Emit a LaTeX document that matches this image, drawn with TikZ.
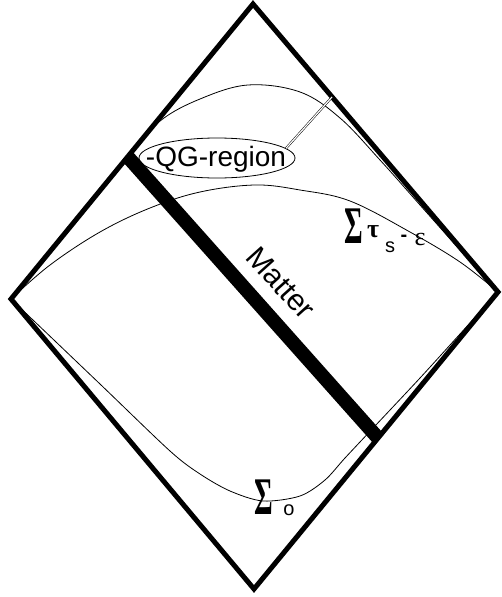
\documentclass[tikz,border=0pt]{standalone}
\usepackage{fontspec}
\setmainfont{Liberation Sans}
\newfontfamily\greekfont{Liberation Serif}
\usetikzlibrary{shapes.geometric}

\begin{document}
\begin{tikzpicture}[x=1pt, y=-1pt,
    edge/.style={line width=5pt, line join=miter},
    slice/.style={line width=0.8pt},
    bigsigma/.style={inner sep=0, font=\greekfont\bfseries\fontsize{46}{46}\selectfont},
    smallgreek/.style={inner sep=0, font=\greekfont\fontsize{26}{26}\selectfont},
    subtext/.style={inner sep=0, font=\fontsize{20}{20}\selectfont}]
    \useasboundingbox (0,0) rectangle (501,597);
    \coordinate (T) at (253,4);
    \coordinate (L) at (11,299);
    \coordinate (B) at (254,589);
    \coordinate (R) at (498,292);

    % matter shell
    \begin{scope}
        \clip (T) -- (R) -- (B) -- (L) -- cycle;
        \draw[line width=14pt] (103,129) -- (402,465);
    \end{scope}

    % slices
    \draw[slice] plot[smooth, tension=0.6] coordinates {(128,156) (160,121) (200,99) (248,85) (300,92) (340,118) (380,160) (420,205) (460,250) (498,292)};
    \draw[slice] plot[smooth, tension=0.6] coordinates {(11,299) (50,265) (100,232) (150,208) (200,192) (255,185) (300,190) (350,201) (410,232) (460,262) (498,292)};
    \draw[slice] plot[smooth, tension=0.5] coordinates {(11,299) (100,384) (170,451) (200,474) (230,491) (263,501) (300,496) (325,480) (345,458) (375,426) (420,378) (460,334) (498,292)};

    % Penrose diagram
    \draw[edge] (T) -- (R) -- (B) -- (L) -- cycle;

    % QG region
    \node[draw, ellipse, slice, minimum width=156pt, minimum height=40pt, inner sep=0] (qg) at (217,158) {};
    \node[inner sep=0, font=\fontsize{28}{28}\selectfont] (qgtext) at (216,159) {-QG-region};
    \coordinate (qgtip) at (332,97);
    \draw[double, double distance=1.2pt, line width=0.5pt] (qg.8) -- (qgtip);

    % labels
    \node[rotate=-48, font=\fontsize{30}{30}\selectfont] (matter) at (281,283) {Matter};

    \node[bigsigma] (sigmaT) at (354,226) {\scalebox{0.62}[1.15]{Σ}};
    \node[smallgreek, font=\greekfont\bfseries\fontsize{26}{26}\selectfont] (tau) at (373,232) {τ};
    \node[subtext] (subs) at (390,247) {s};
    \node[subtext, font=\bfseries\fontsize{20}{20}\selectfont] (minus) at (404,238) {-};
    \node[smallgreek] (eps) at (420,239) {ε};

    \node[bigsigma] (sigma0) at (264,497) {\scalebox{0.62}[1.15]{Σ}};
    \node[subtext] (sub0) at (289,510) {o};
\end{tikzpicture}
\end{document}
